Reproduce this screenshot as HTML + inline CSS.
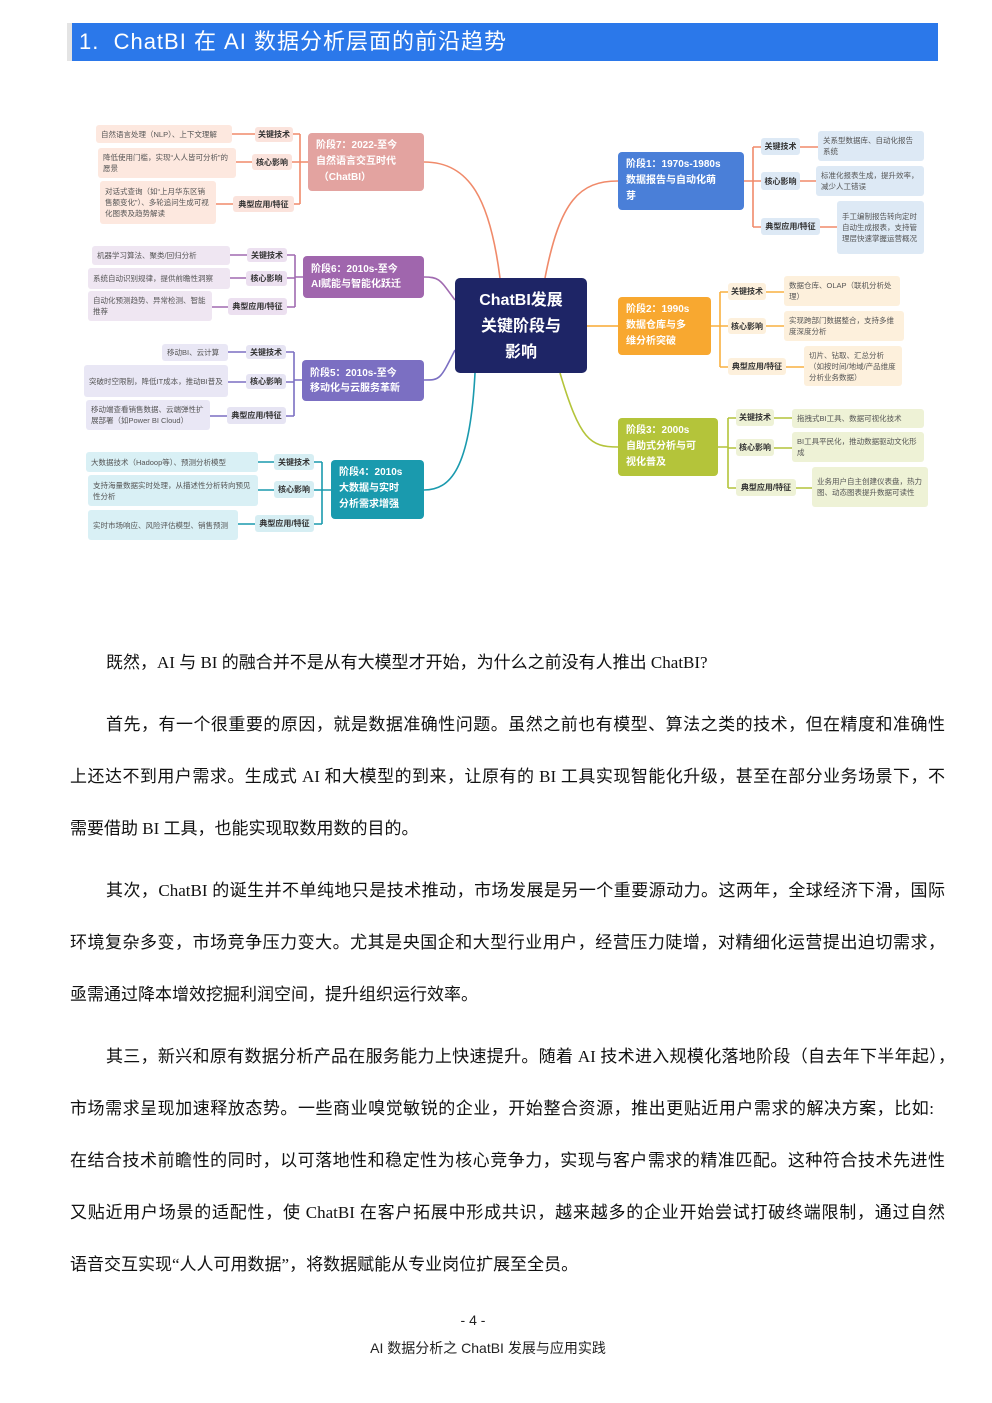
<!DOCTYPE html>
<html><head><meta charset="utf-8">
<style>
body{margin:0;background:#fff;}
#pg{position:relative;width:992px;height:1403px;overflow:hidden;font-family:"Liberation Sans","Noto Sans CJK SC",sans-serif;}
.a{position:absolute;box-sizing:border-box;}
.hd{left:72px;top:23px;width:866px;height:38px;background:#2b78ea;color:#fff;font-size:22px;line-height:38px;padding-left:7px;letter-spacing:1px;}
.hl{left:67px;top:23px;width:5px;height:38px;background:#e4e4e4;}
.st{color:#fff;font-weight:bold;font-size:10px;line-height:15px;padding:6px 8px;border-radius:4px;}
.lb{font-size:8px;font-weight:bold;color:#333;border-radius:3px;text-align:center;display:flex;align-items:center;justify-content:center;}
.lf{font-size:7.5px;color:#555;border-radius:3px;padding:2px 5px;line-height:11px;display:flex;align-items:center;}
.ctr{left:455px;top:278px;width:132px;height:95px;background:#1e2566;border-radius:5px;color:#fff;font-size:16px;font-weight:bold;line-height:26px;text-align:center;padding-top:10px;}
.p{left:70px;width:875px;font-family:"Liberation Serif","Noto Sans CJK SC",serif;font-size:17px;line-height:20px;color:#111;white-space:nowrap;}
.j{text-align:justify;text-align-last:justify;}
</style></head><body><div id="pg">
<div class="a hl"></div>
<div class="a hd">1.&nbsp; ChatBI 在 AI 数据分析层面的前沿趋势</div>

<svg class="a" style="left:0;top:0" width="992" height="600" fill="none" stroke-width="1.6">
<path d="M500 278 C490 200,470 162,424 162" stroke="#f08a6a"/>
<path d="M455 300 C440 280,440 277,424 277" stroke="#a06ab0"/>
<path d="M455 350 C440 380,440 380,424 380" stroke="#7b6fc2"/>
<path d="M475 373 C470 470,450 490,424 490" stroke="#1a9aae"/>
<path d="M545 278 C560 200,580 181,618 181" stroke="#f08a6a"/>
<path d="M587 326 L618 326" stroke="#f8a830"/>
<path d="M560 373 C580 440,590 447,618 447" stroke="#b4c43a"/>
<g stroke="#f08a6a"><path d="M308 162H300M300 134V204M300 134H293M300 162H292M300 204H294M255 134H232M252 162H236M233 204H216"/></g>
<g stroke="#a06ab0"><path d="M303 277H295M295 255V307M295 255H287M295 278H287M295 307H287M247 255H230M246 278H230M228 307H212"/></g>
<g stroke="#7b6fc2"><path d="M302 380H294M294 352V416M294 352H286M294 382H286M294 416H286M246 352H228M246 382H228M227 416H210"/></g>
<g stroke="#1a9aae"><path d="M331 490H322M322 462V524M322 462H314M322 490H314M322 524H314M274 462H258M274 490H258M255 524H238"/></g>
<g stroke="#f08a6a"><path d="M744 181H753M753 147V227M753 147H761M753 181H761M753 227H761M800 147H818M800 181H816M820 227H837"/></g>
<g stroke="#f8b040"><path d="M711 326H720M720 292V367M720 292H728M720 326H728M720 367H728M766 292H784M766 326H784M786 367H804"/></g>
<g stroke="#b4c43a"><path d="M718 447H728M728 418V488M728 418H736M728 448H736M728 488H736M774 418H792M774 448H792M796 488H812"/></g>
</svg>

<div class="a ctr">ChatBI发展<br>关键阶段与<br>影响</div>

<div class="a st" style="left:308px;top:133px;width:116px;height:58px;background:#e3a3a0;padding-top:5px;line-height:16px">阶段7：2022-至今<br>自然语言交互时代<br>&nbsp;（ChatBI）</div>
<div class="a lb" style="left:255px;top:127px;width:38px;height:15px;background:#fbe3dc">关键技术</div>
<div class="a lb" style="left:252px;top:154px;width:40px;height:16px;background:#fbe3dc">核心影响</div>
<div class="a lb" style="left:233px;top:196px;width:61px;height:16px;background:#fbe3dc">典型应用/特征</div>
<div class="a lf" style="left:96px;top:125px;width:136px;height:18px;background:#fde8df">自然语言处理（NLP）、上下文理解</div>
<div class="a lf" style="left:98px;top:148px;width:138px;height:30px;background:#fde8df">降低使用门槛，实现“人人皆可分析”的愿景</div>
<div class="a lf" style="left:100px;top:181px;width:116px;height:43px;background:#fde8df">对话式查询（如“上月华东区销售额变化”）、多轮追问生成可视化图表及趋势解读</div>
<div class="a st" style="left:303px;top:256px;width:121px;height:42px;background:#a066ad">阶段6：2010s-至今<br>AI赋能与智能化跃迁</div>
<div class="a lb" style="left:247px;top:248px;width:40px;height:14px;background:#ece0f0">关键技术</div>
<div class="a lb" style="left:246px;top:271px;width:41px;height:15px;background:#ece0f0">核心影响</div>
<div class="a lb" style="left:228px;top:298px;width:59px;height:17px;background:#ece0f0">典型应用/特征</div>
<div class="a lf" style="left:92px;top:246px;width:138px;height:19px;background:#efe6f2">机器学习算法、聚类/回归分析</div>
<div class="a lf" style="left:88px;top:268px;width:142px;height:21px;background:#efe6f2">系统自动识别规律，提供前瞻性洞察</div>
<div class="a lf" style="left:88px;top:291px;width:124px;height:30px;background:#efe6f2">自动化预测趋势、异常检测、智能推荐</div>
<div class="a st" style="left:302px;top:360px;width:122px;height:41px;background:#7b6fc2">阶段5：2010s-至今<br>移动化与云服务革新</div>
<div class="a lb" style="left:246px;top:345px;width:40px;height:14px;background:#e6e4f3">关键技术</div>
<div class="a lb" style="left:246px;top:374px;width:40px;height:15px;background:#e6e4f3">核心影响</div>
<div class="a lb" style="left:227px;top:407px;width:59px;height:17px;background:#e6e4f3">典型应用/特征</div>
<div class="a lf" style="left:162px;top:344px;width:66px;height:17px;background:#e9e7f5">移动BI、云计算</div>
<div class="a lf" style="left:84px;top:365px;width:144px;height:32px;background:#e9e7f5">突破时空限制，降低IT成本，推动BI普及</div>
<div class="a lf" style="left:86px;top:400px;width:124px;height:30px;background:#e9e7f5">移动端查看销售数据、云端弹性扩展部署（如Power BI Cloud）</div>
<div class="a st" style="left:331px;top:460px;width:93px;height:59px;background:#1a9aae;padding-top:5px;line-height:16px">阶段4：2010s<br>大数据与实时<br>分析需求增强</div>
<div class="a lb" style="left:274px;top:454px;width:40px;height:16px;background:#d6eef3">关键技术</div>
<div class="a lb" style="left:274px;top:481px;width:40px;height:17px;background:#d6eef3">核心影响</div>
<div class="a lb" style="left:255px;top:515px;width:59px;height:17px;background:#d6eef3">典型应用/特征</div>
<div class="a lf" style="left:86px;top:452px;width:172px;height:20px;background:#d9f0f5">大数据技术（Hadoop等）、预测分析模型</div>
<div class="a lf" style="left:88px;top:475px;width:170px;height:31px;background:#d9f0f5">支持海量数据实时处理，从描述性分析转向预见性分析</div>
<div class="a lf" style="left:88px;top:510px;width:150px;height:30px;background:#d9f0f5">实时市场响应、风险评估模型、销售预测</div>
<div class="a st" style="left:618px;top:152px;width:126px;height:58px;background:#4a7fd8;padding-top:5px;line-height:16px">阶段1：1970s-1980s<br>数据报告与自动化萌<br>芽</div>
<div class="a lb" style="left:761px;top:138px;width:39px;height:17px;background:#dde9f5">关键技术</div>
<div class="a lb" style="left:761px;top:172px;width:39px;height:18px;background:#dde9f5">核心影响</div>
<div class="a lb" style="left:761px;top:218px;width:59px;height:17px;background:#dde9f5">典型应用/特征</div>
<div class="a lf" style="left:818px;top:131px;width:106px;height:30px;background:#dde9f5">关系型数据库、自动化报告系统</div>
<div class="a lf" style="left:816px;top:166px;width:108px;height:30px;background:#dde9f5">标准化报表生成，提升效率，减少人工错误</div>
<div class="a lf" style="left:837px;top:201px;width:87px;height:53px;background:#dde9f5">手工编制报告转向定时自动生成报表，支持管理层快速掌握运营概况</div>
<div class="a st" style="left:618px;top:297px;width:93px;height:58px;background:#f8a830;padding-top:5px;line-height:16px">阶段2：1990s<br>数据仓库与多<br>维分析突破</div>
<div class="a lb" style="left:728px;top:283px;width:38px;height:17px;background:#fdf0dc">关键技术</div>
<div class="a lb" style="left:728px;top:318px;width:38px;height:16px;background:#fdf0dc">核心影响</div>
<div class="a lb" style="left:728px;top:358px;width:58px;height:17px;background:#fdf0dc">典型应用/特征</div>
<div class="a lf" style="left:784px;top:276px;width:116px;height:30px;background:#fdf0dc">数据仓库、OLAP（联机分析处理）</div>
<div class="a lf" style="left:784px;top:311px;width:120px;height:30px;background:#fdf0dc">实现跨部门数据整合，支持多维度深度分析</div>
<div class="a lf" style="left:804px;top:346px;width:98px;height:40px;background:#fdf0dc">切片、钻取、汇总分析（如按时间/地域/产品维度分析业务数据）</div>
<div class="a st" style="left:618px;top:418px;width:100px;height:58px;background:#b4c43a;padding-top:5px;line-height:16px">阶段3：2000s<br>自助式分析与可<br>视化普及</div>
<div class="a lb" style="left:736px;top:409px;width:38px;height:17px;background:#eef2d6">关键技术</div>
<div class="a lb" style="left:736px;top:439px;width:38px;height:17px;background:#eef2d6">核心影响</div>
<div class="a lb" style="left:736px;top:479px;width:60px;height:17px;background:#eef2d6">典型应用/特征</div>
<div class="a lf" style="left:792px;top:409px;width:132px;height:19px;background:#eef2d6">拖拽式BI工具、数据可视化技术</div>
<div class="a lf" style="left:792px;top:432px;width:132px;height:30px;background:#eef2d6">BI工具平民化，推动数据驱动文化形成</div>
<div class="a lf" style="left:812px;top:467px;width:116px;height:40px;background:#eef2d6">业务用户自主创建仪表盘，热力图、动态图表提升数据可读性</div>

<div class="a p" style="top:653px;left:106px;width:auto">既然，AI 与 BI 的融合并不是从有大模型才开始，为什么之前没有人推出 ChatBI?</div>
<div class="a p j" style="top:715px;left:106px;width:839px">首先，有一个很重要的原因，就是数据准确性问题。虽然之前也有模型、算法之类的技术，但在精度和准确性</div>
<div class="a p j" style="top:767px">上还达不到用户需求。生成式 AI 和大模型的到来，让原有的 BI 工具实现智能化升级，甚至在部分业务场景下，不</div>
<div class="a p" style="top:819px;width:auto">需要借助 BI 工具，也能实现取数用数的目的。</div>
<div class="a p j" style="top:881px;left:106px;width:839px">其次，ChatBI 的诞生并不单纯地只是技术推动，市场发展是另一个重要源动力。这两年，全球经济下滑，国际</div>
<div class="a p j" style="top:933px">环境复杂多变，市场竞争压力变大。尤其是央国企和大型行业用户，经营压力陡增，对精细化运营提出迫切需求，</div>
<div class="a p" style="top:985px;width:auto">亟需通过降本增效挖掘利润空间，提升组织运行效率。</div>
<div class="a p j" style="top:1047px;left:106px;width:849px">其三，新兴和原有数据分析产品在服务能力上快速提升。随着 AI 技术进入规模化落地阶段（自去年下半年起），</div>
<div class="a p j" style="top:1099px;width:864px">市场需求呈现加速释放态势。一些商业嗅觉敏锐的企业，开始整合资源，推出更贴近用户需求的解决方案，比如:</div>
<div class="a p j" style="top:1151px">在结合技术前瞻性的同时，以可落地性和稳定性为核心竞争力，实现与客户需求的精准匹配。这种符合技术先进性</div>
<div class="a p j" style="top:1203px">又贴近用户场景的适配性，使 ChatBI 在客户拓展中形成共识，越来越多的企业开始尝试打破终端限制，通过自然</div>
<div class="a p" style="top:1255px;width:auto">语音交互实现“人人可用数据”，将数据赋能从专业岗位扩展至全员。</div>

<div class="a" style="left:0;width:946px;top:1312px;text-align:center;font-size:14px;color:#222">- 4 -</div>
<div class="a" style="left:0;width:976px;top:1338px;text-align:center;font-size:14px;color:#222">AI 数据分析之 ChatBI 发展与应用实践</div>
</div></body></html>
